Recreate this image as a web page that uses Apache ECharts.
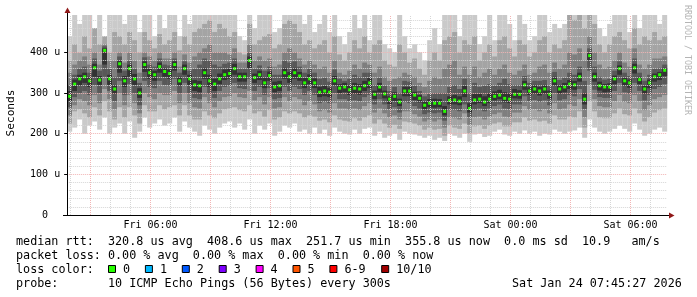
<!DOCTYPE html>
<html><head><meta charset="utf-8">
<script src="https://cdn.jsdelivr.net/npm/echarts@6/dist/echarts.min.js"></script>
<style>html,body{margin:0;padding:0;background:#fff}#c{width:697px;height:297px}</style>
</head><body><div id="c"></div>
<script>
// ---- data (hours are counted from Fri 00:00; one sample every 15 minutes) ----
const startHour = 1 + 50 / 60;      // Fri 01:50
const stepHours = 0.25;
const spanHours = 30;

const p1 = [205,215,235,200,220,230,210,240,200,215, 225,200,230,190,205,240,215,225,235,220, 225,240,205,230,215,205,195,220,210,200,
            215,225,230,215,225,210,235,200,220,210, 225,195,205,220,215,225,205,210,200,215, 200,210,195,215,205,200,198,210,200,212,
            215,195,205,190,195,200,185,205,200,198, 195,190,195,185,190,182,200,195,190,200, 180,198,200,192,195,205,210,198,195,205,
            200,208,200,205,195,200,198,210,205,200, 205,208,215,190,235,215,205,200,205,212, 220,212,205,225,210,195,200,210,215,205];
const p2 = [225,255,260,250,240,265,245,280,255,235, 265,240,265,245,225,270,255,255,270,260, 265,270,245,270,245,235,235,255,245,238,
            250,260,262,265,258,255,270,250,255,242, 258,235,240,255,250,255,250,240,245,242, 232,235,228,245,235,232,230,238,232,240,
            245,225,235,225,215,222,212,230,228,225, 220,210,215,210,212,195,220,215,212,225, 200,218,220,212,220,225,228,218,218,228,
            228,240,232,235,230,232,225,245,235,235, 242,240,255,215,280,255,240,238,238,250, 262,248,245,262,250,230,240,252,258,262];
const p3 = [245,270,285,280,270,295,275,310,285,260, 300,270,295,275,250,300,290,285,300,295, 295,305,275,300,275,265,262,290,275,265,
            280,290,292,300,290,288,305,282,290,272, 290,262,265,290,280,290,285,270,280,272, 255,258,252,275,262,262,258,262,258,268,
            275,252,262,250,240,245,235,255,255,248, 242,230,235,230,235,215,240,238,235,250, 222,240,242,235,242,248,252,242,240,252,
            252,268,258,260,255,260,250,275,260,262, 272,268,285,240,320,285,268,265,265,280, 295,278,275,295,280,258,270,285,290,295];
const p4 = [265,290,300,305,295,320,300,340,305,280, 330,295,322,300,270,330,315,312,330,320, 318,335,300,325,300,288,285,315,298,288,
            305,315,318,325,312,310,335,305,315,295, 312,285,288,315,305,315,310,295,305,295, 275,278,275,300,285,285,280,282,280,290,
            295,272,285,272,260,265,252,278,275,268, 262,248,252,250,252,232,258,258,255,272, 240,258,262,255,262,268,272,262,260,272,
            272,292,280,283,278,282,270,300,282,285, 295,292,310,260,355,308,290,288,288,305, 325,302,298,325,305,282,295,310,315,322];
const p5 = [280,305,318,325,315,340,320,370,320,298, 350,315,340,320,288,352,335,330,350,340, 335,355,318,345,320,305,302,335,315,305,
            322,332,335,345,328,328,360,325,332,312, 330,302,305,335,325,335,330,312,322,312, 290,292,290,318,300,302,295,298,296,305,
            312,285,302,287,273,280,268,292,292,283, 277,260,265,264,265,245,272,272,270,290, 252,272,275,268,275,282,285,277,275,287,
            286,308,295,298,294,298,286,318,298,302, 310,308,328,272,380,328,306,302,303,322, 345,318,313,348,322,298,312,328,332,342];
const median = [292,322,335,340,330,362,332,405,335,310, 372,330,360,335,300,370,350,345,365,353, 348,370,330,360,335,320,318,350,330,322,
            335,345,348,360,340,340,380,338,345,325, 343,315,318,350,340,350,342,325,335,325, 302,305,302,330,312,315,308,312,310,318,
            325,297,315,298,285,292,278,305,305,295, 287,270,275,275,275,255,282,283,280,305, 262,283,285,278,285,292,295,287,285,297,
            297,320,305,310,305,310,297,330,310,315, 322,320,340,285,392,340,318,315,315,335, 360,330,325,362,333,310,325,340,345,356];
const p6 = [305,333,345,350,340,372,342,410,345,320, 380,342,370,347,312,378,360,355,375,362, 358,378,340,370,345,332,330,362,345,335,
            348,358,360,372,350,350,390,348,355,338, 353,328,330,362,352,362,352,337,346,336, 315,318,313,342,322,325,320,325,322,330,
            337,306,325,306,292,302,286,315,315,303, 295,280,285,286,285,268,292,295,292,318, 275,298,298,292,300,304,308,302,300,310,
            307,330,314,320,315,320,306,340,320,325, 332,330,350,300,398,350,328,322,324,343, 368,338,333,372,340,318,333,348,352,362];
const p7 = [320,345,360,365,350,385,355,415,360,340, 390,355,380,360,325,388,370,365,385,370, 368,385,350,378,355,360,370,385,380,370,
            365,372,375,385,360,360,400,360,368,355, 365,345,345,380,375,378,365,350,360,350, 335,338,328,358,335,330,335,345,340,350,
            350,320,338,318,305,315,300,330,328,318, 305,292,298,300,300,300,315,320,310,335, 300,325,315,318,322,318,325,335,322,320,
            320,342,325,330,330,332,318,352,332,338, 350,345,365,330,410,365,340,333,335,355, 378,350,342,385,350,330,345,360,362,370];
const p8 = [350,370,380,390,370,400,370,420,380,380, 400,375,400,380,350,400,390,380,400,385, 385,400,365,395,375,390,400,410,420,400,
            400,400,395,410,375,375,420,380,390,380, 385,365,370,400,410,400,385,370,380,370, 360,365,350,380,350,345,355,370,360,375,
            370,350,365,340,330,335,340,350,345,340, 325,315,330,340,335,360,370,380,345,365, 345,365,340,350,360,345,360,370,350,345,
            355,370,345,350,365,370,350,375,360,370, 400,395,410,380,440,400,370,360,365,380, 400,375,365,410,370,360,370,385,385,390];
const p9 = [380,420,400,440,410,460,420,440,400,450, 440,420,450,430,400,450,430,410,445,420, 430,450,405,440,420,450,460,470,480,450,
            470,460,440,450,400,395,470,420,430,440, 445,410,420,470,480,470,450,420,430,410, 420,430,400,440,395,380,400,430,410,440,
            400,420,430,380,370,365,420,400,375,385, 360,345,380,400,380,430,440,450,400,430, 420,440,380,400,420,390,430,440,410,390,
            430,420,390,400,430,440,400,420,410,430, 500,480,500,460,500,470,420,400,420,440, 450,430,410,460,420,440,430,450,430,440];
const p10 = [440,500,470,500,500,450,500,430,500,500, 500,470,500,500,450,500,500,440,500,460, 500,500,440,500,470,500,500,500,500,500,
            500,500,500,500,440,430,500,460,500,500, 500,450,460,500,500,500,500,470,500,450, 470,500,450,500,440,420,450,500,460,500,
            430,500,500,420,410,400,500,440,410,420, 400,380,430,460,420,500,500,500,440,500, 500,500,420,440,500,430,500,500,470,430,
            500,470,430,440,500,500,450,470,460,470, 500,500,500,500,500,500,460,440,470,500, 500,500,450,500,460,500,500,500,470,500];

const yMax = 492;
const xTickHours = [6, 12, 18, 24, 30];
const xTickLabels = ['Fri 06:00', 'Fri 12:00', 'Fri 18:00', 'Sat 00:00', 'Sat 06:00'];
const yTickValues = [0, 100, 200, 300, 400];

const statLines = [
  'median rtt:  320.8 us avg  408.6 us max  251.7 us min  355.8 us now  0.0 ms sd  10.9   am/s',
  'packet loss: 0.00 % avg  0.00 % max  0.00 % min  0.00 % now',
  'loss color:',
  'probe:       10 ICMP Echo Pings (56 Bytes) every 300s'
];
const stampText = 'Sat Jan 24 07:45:27 2026';
const lossLabels = ['0', '1', '2', '3', '4', '5', '6-9', '10/10'];
const lossColors = ['#26ff00', '#00b8ff', '#0059ff', '#7e00ff', '#ff00ff', '#ff5500', '#ff0000', '#a10000'];
const bandColors = ['#cacaca', '#a4a4a4', '#7e7e7e', '#585858', '#323232'];

// ---- build ----
const rows = median.map((m, i) => [startHour + i * stepHours, p1[i], p2[i], p3[i], p4[i], p5[i], m, p6[i], p7[i], p8[i], p9[i], p10[i]]);

function renderSmoke(params, api) {
  const x = api.value(0);
  const left = api.coord([x, 0])[0];
  const right = api.coord([x + stepHours, 0])[0];
  const yOf = v => api.coord([x, Math.min(v, yMax)])[1];
  const children = [];
  for (let b = 0; b < 5; b++) {
    const yLo = yOf(api.value(1 + b));
    const yHi = yOf(api.value(11 - b));
    children.push({ type: 'rect', shape: { x: left, y: yHi, width: right - left, height: yLo - yHi }, style: { fill: bandColors[b] } });
  }
  const ym = yOf(api.value(6));
  children.push({ type: 'rect', shape: { x: left + 1, y: ym - 1.5, width: 3, height: 3 }, style: { fill: lossColors[0] } });
  return { type: 'group', children };
}

const gridLines = [];
for (let h = Math.ceil(startHour); h <= startHour + spanHours; h++) {
  gridLines.push({ xAxis: h, lineStyle: { color: h % 3 === 0 ? '#f2b4b4' : '#d6d6d6', type: [1, 1], width: 1 } });
}
for (let v = 20; v < yMax; v += 20) {
  gridLines.push({ yAxis: v, lineStyle: { color: v % 100 === 0 ? '#f2b4b4' : '#d6d6d6', type: [1, 1], width: 1 } });
}

const mono = 'DejaVu Sans Mono';
const graphics = [];
statLines.forEach((t, i) => {
  graphics.push({ type: 'text', x: 16, y: 241.5 + i * 14, style: { text: t, font: '11.75px "' + mono + '"', fill: '#000', textVerticalAlign: 'middle' } });
});
graphics.push({ type: 'text', x: 512, y: 283.5, style: { text: stampText, font: '11.75px "' + mono + '"', fill: '#000', textVerticalAlign: 'middle' } });
lossLabels.forEach((lab, i) => {
  const bx = i < 7 ? 108.5 + 36.9 * i : 381.7;
  graphics.push({ type: 'rect', shape: { x: bx, y: 265.5, width: 7, height: 7 }, style: { fill: lossColors[i], stroke: '#000', lineWidth: 1 } });
  graphics.push({ type: 'text', x: bx + 14.5, y: 269.5, style: { text: lab, font: '11.75px "' + mono + '"', fill: '#000', textVerticalAlign: 'middle' } });
});
graphics.push({ type: 'text', x: 11, y: 113, rotation: Math.PI / 2, style: { text: 'Seconds', font: '11.2px "' + mono + '"', fill: '#000', textAlign: 'center', textVerticalAlign: 'middle' } });
graphics.push({ type: 'text', x: 687, y: 5, rotation: -Math.PI / 2, style: { text: 'RRDTOOL / TOBI OETIKER', font: '8.3px "' + mono + '"', fill: '#b4b4b4', textAlign: 'left', textVerticalAlign: 'middle' } });
// axis extensions + arrows
graphics.push({ type: 'line', shape: { x1: 67.5, y1: 15, x2: 67.5, y2: 11 }, style: { stroke: '#000', lineWidth: 1 } });
graphics.push({ type: 'line', shape: { x1: 63, y1: 215.5, x2: 670, y2: 215.5 }, style: { stroke: '#000', lineWidth: 1 } });
graphics.push({ type: 'polygon', shape: { points: [[64.5, 13], [70.5, 13], [67.5, 7.5]] }, style: { fill: '#901818' } });
graphics.push({ type: 'polygon', shape: { points: [[669, 212.5], [669, 218.5], [674.5, 215.5]] }, style: { fill: '#901818' } });

const chart = echarts.init(document.getElementById('c'), null, { renderer: 'canvas' });
chart.setOption({
  animation: false,
  backgroundColor: '#fff',
  grid: { left: 67.17, right: 697 - 667.17, top: 15, bottom: 82, containLabel: false },
  xAxis: {
    type: 'value', min: startHour, max: startHour + spanHours, z: 5,
    axisLine: { show: true, lineStyle: { color: '#000', width: 1 } },
    axisTick: { show: false },
    splitLine: { show: false },
    axisLabel: {
      customValues: xTickHours, margin: 5,
      formatter: v => { const k = xTickHours.indexOf(Math.round(v)); return Math.abs(v - Math.round(v)) < 1e-6 && k >= 0 ? xTickLabels[k] : ''; },
      fontFamily: mono, fontSize: 10, color: '#000'
    }
  },
  yAxis: {
    type: 'value', min: 0, max: yMax, interval: 100, z: 5,
    axisLine: { show: true, lineStyle: { color: '#000', width: 1 } },
    axisTick: { show: true, customValues: yTickValues, length: 3, lineStyle: { color: '#000' } },
    splitLine: { show: false },
    axisLabel: {
      customValues: yTickValues, margin: 7,
      formatter: v => (v === 0 ? '0  ' : (v % 100 === 0 ? v + ' u' : '')),
      fontFamily: mono, fontSize: 10, color: '#000'
    }
  },
  series: [
    { type: 'custom', z: 2, renderItem: renderSmoke, data: rows, encode: { x: 0, y: [1, 11] }, clip: true, silent: true },
    { type: 'line', z: 4, data: [], silent: true,
      markLine: { symbol: 'none', silent: true, animation: false, label: { show: false }, data: gridLines } }
  ],
  graphic: graphics
});
</script>
</body></html>
